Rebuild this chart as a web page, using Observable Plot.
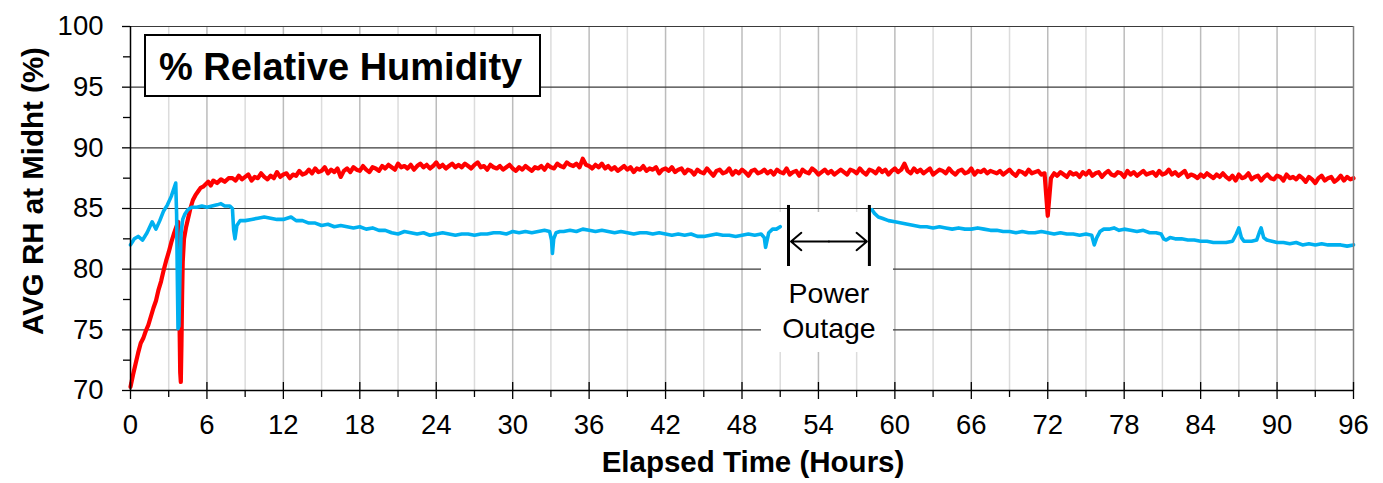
<!DOCTYPE html>
<html><head><meta charset="utf-8">
<script src="https://cdn.jsdelivr.net/npm/d3@7"></script>
<script src="https://cdn.jsdelivr.net/npm/@observablehq/plot@0.6"></script>
<style>body{margin:0;background:#fff;} svg{display:block}</style>
</head><body><div id="chart"></div>
<script>
// ---- tick labels / grid values ----
const xTicks = [0,6,12,18,24,30,36,42,48,54,60,66,72,78,84,90,96];
const xMinorTicks = [3,9,15,21,27,33,39,45,51,57,63,69,75,81,87,93];
const xGridMajor = [6,12,18,24,30,36,42,48,54,60,66,72,78,84,90];
const yTicks = [70,75,80,85,90,95,100];
const yMinorTicks = [72.5,77.5,82.5,87.5,92.5,97.5];
const yGrid = [75,80,85,90,95,100];

// ---- red series: warm-up part (time h, RH %) ----
const redRise = [
  [0,70.3],[0.2,71.3],[0.4,72.2],[0.6,73.1],[0.8,73.9],[1.0,74.3],[1.2,74.9],[1.4,75.4],
  [1.6,76.1],[1.8,76.8],[2.0,77.4],[2.2,78.3],[2.4,79.0],[2.6,79.9],[2.8,80.7],[3.0,81.4],
  [3.2,82.2],[3.4,82.9],[3.6,83.5],[3.75,83.9],[3.83,77.0],[3.9,71.5],[3.95,70.7],[4.0,73.8],
  [4.05,77.8],[4.1,80.6],[4.2,82.5],[4.35,83.4],[4.5,84.1],[4.7,85.0],[4.9,85.7],[5.1,86.1],
  [5.3,86.4],[5.5,86.7],[5.7,86.8],[5.9,87.0],[6.1,87.2],[6.3,86.9],[6.5,87.3],[6.8,87.1],
  [7.1,87.4],[7.4,87.2],[7.7,87.5]
];
// ---- red series: from 8 h on, one reading every 0.25 h ----
const redMainStart = 8, redMainStep = 0.25;
const redMain = [
  87.5,87.3,87.7,87.4,87.6,87.8,87.3,87.6,87.5,87.9,87.6,87.4,87.7,87.5,88.0,87.6,87.8,87.9,87.5,87.8,87.7,88.1,87.8,87.9,
  88.2,87.9,88.3,88.0,88.1,88.4,87.9,88.2,88.0,88.3,87.6,88.1,88.3,88.0,88.4,88.2,88.1,88.5,88.2,88.0,88.4,88.3,88.1,88.5,
  88.3,88.6,88.4,88.2,88.7,88.4,88.5,88.3,88.6,88.2,88.5,88.7,88.4,88.6,88.3,88.5,88.8,88.4,88.6,88.3,88.5,88.7,88.4,88.6,
  88.4,88.7,88.5,88.3,88.6,88.8,88.4,88.5,88.2,88.6,88.4,88.3,88.5,88.2,88.4,88.6,88.3,88.1,88.4,88.2,88.5,88.3,88.1,88.4,
  88.3,88.5,88.2,88.6,88.4,88.3,88.7,88.5,88.4,88.8,88.6,88.5,88.7,88.4,89.1,88.6,88.5,88.3,88.6,88.4,88.7,88.3,88.5,88.2,
  88.4,88.1,88.3,88.5,88.2,88.4,88.0,88.3,88.2,88.5,88.1,88.3,88.2,88.4,87.9,88.2,88.3,88.1,88.4,88.0,88.2,88.3,87.9,88.2,
  88.1,87.8,88.2,88.0,87.9,88.3,88.0,87.7,88.1,88.2,87.9,88.0,88.3,87.8,88.1,87.9,88.2,88.0,87.7,88.1,88.2,87.9,88.0,88.2,
  87.9,88.1,87.8,88.2,88.0,87.9,88.3,87.8,88.0,88.1,87.7,88.2,88.0,87.9,88.3,88.1,87.8,88.0,88.2,87.9,88.1,87.8,88.0,88.2,
  88.0,87.8,88.2,88.1,87.9,88.3,88.0,87.8,88.2,88.1,87.9,88.3,88.0,88.2,87.8,88.1,88.3,88.0,88.2,88.7,88.1,87.9,88.3,88.0,
  88.2,87.9,88.1,88.3,87.8,88.0,88.2,88.1,87.9,88.3,88.0,87.8,88.1,88.2,87.9,88.0,88.3,87.8,88.1,88.0,88.2,87.9,88.1,88.0,
  87.9,88.1,87.8,88.0,88.2,87.9,87.7,88.1,88.0,87.8,88.2,87.9,88.0,88.1,87.8,87.9,84.4,87.5,87.9,87.7,88.0,87.8,87.6,88.0,
  87.8,87.9,87.6,88.0,87.8,88.1,87.7,87.9,88.0,87.6,87.9,88.1,87.8,87.7,88.0,87.9,87.6,88.1,87.8,88.0,87.7,87.9,88.1,87.8,
  87.9,88.0,87.7,88.1,87.8,87.9,88.2,87.8,88.0,87.7,87.9,88.1,87.6,87.8,87.7,87.5,87.8,87.6,87.9,87.7,87.5,87.8,87.6,87.9,
  87.6,87.4,87.7,87.3,87.8,87.5,87.6,87.9,87.4,87.6,87.7,87.3,87.6,87.8,87.5,87.4,87.7,87.6,87.3,87.8,87.5,87.6,87.4,87.7,
  87.5,87.2,87.6,87.4,87.1,87.5,87.7,87.3,87.5,87.6,87.2,87.4,87.7,87.3,87.6,87.4,87.5
];

// ---- cyan series (time h, RH %); null = no data (power outage) ----
const cyanSeries = [
  [0,82.0],[0.3,82.5],[0.6,82.7],[0.95,82.4],[1.3,83.0],[1.7,83.9],[2.0,83.3],[2.3,84.0],
  [2.6,84.8],[2.9,85.3],[3.2,86.0],[3.55,87.1],[3.62,84.5],[3.68,79.0],[3.73,75.1],[3.8,75.3],
  [3.88,79.5],[3.97,83.0],[4.1,84.1],[4.25,84.5],[4.5,84.9],[4.8,85.1],[5.2,85.1],[5.6,85.2],
  [6.0,85.1],[6.4,85.2],[6.8,85.3],[7.1,85.4],[7.4,85.2],[7.8,85.2],[8.0,85.0],[8.1,83.2],
  [8.2,82.5],[8.35,83.6],[8.6,84.0],[9.0,84.0],[9.5,84.1],[10.0,84.2],[10.5,84.3],[11.0,84.2],
  [11.5,84.1],[12.0,84.1],[12.6,84.3],[13.0,84.0],[13.5,84.0],[14.0,83.8],[14.5,83.8],[15.0,83.6],
  [15.5,83.7],[16.0,83.5],[16.5,83.6],[17.0,83.5],[17.5,83.4],[18.0,83.5],[18.5,83.3],[19.0,83.4],
  [19.5,83.2],[20.0,83.2],[20.5,83.0],[21.0,82.9],[21.5,83.1],[22.0,83.0],[22.5,82.9],[23.0,83.0],
  [23.5,82.8],[24.0,82.9],[24.5,83.0],[25.0,82.9],[25.5,82.8],[26.0,82.9],[26.5,82.9],[27.0,82.8],
  [27.5,82.9],[28.0,82.9],[28.5,83.0],[29.0,83.0],[29.5,82.9],[30.0,83.1],[30.5,83.0],[31.0,83.1],
  [31.5,83.0],[32.0,83.1],[32.5,83.2],[32.9,83.1],[33.05,82.4],[33.12,81.3],[33.22,82.5],[33.4,83.0],
  [33.7,83.1],[34.0,83.1],[34.5,83.2],[35.0,83.1],[35.5,83.3],[36.0,83.2],[36.5,83.1],[37.0,83.2],
  [37.5,83.1],[38.0,83.0],[38.5,83.1],[39.0,83.0],[39.5,82.9],[40.0,83.0],[40.5,83.0],[41.0,82.9],
  [41.5,83.0],[42.0,82.9],[42.5,82.8],[43.0,82.9],[43.5,82.8],[44.0,82.9],[44.5,82.7],[45.0,82.7],
  [45.5,82.8],[46.0,82.9],[46.5,82.8],[47.0,82.8],[47.5,82.7],[48.0,82.8],[48.5,82.9],[49.0,82.8],
  [49.5,82.9],[49.75,82.6],[49.85,81.8],[49.95,82.3],[50.1,83.0],[50.4,83.3],[50.7,83.3],[51.0,83.5],
  [54.0,null],
  [58.2,84.9],[58.4,84.6],[58.7,84.3],[59.0,84.2],[59.5,84.0],[60.0,83.9],[60.5,83.8],[61.0,83.7],
  [61.5,83.6],[62.0,83.5],[62.5,83.5],[63.0,83.4],[63.5,83.5],[64.0,83.4],[64.5,83.3],[65.0,83.4],
  [65.5,83.3],[66.0,83.3],[66.5,83.4],[67.0,83.3],[67.5,83.2],[68.0,83.2],[68.5,83.1],[69.0,83.1],
  [69.5,83.0],[70.0,83.1],[70.5,83.0],[71.0,83.0],[71.5,83.1],[72.0,83.0],[72.5,82.9],[73.0,83.0],
  [73.5,82.9],[74.0,82.9],[74.5,82.8],[75.0,82.9],[75.45,82.8],[75.65,82.0],[75.85,82.6],[76.1,83.1],
  [76.4,83.3],[76.8,83.3],[77.2,83.4],[77.6,83.2],[78.0,83.3],[78.5,83.2],[79.0,83.1],[79.5,83.2],
  [80.0,83.0],[80.5,83.0],[80.9,82.9],[81.1,82.5],[81.3,82.4],[81.6,82.6],[82.0,82.5],[82.5,82.5],
  [83.0,82.4],[83.5,82.4],[84.0,82.3],[84.5,82.3],[85.0,82.2],[85.5,82.2],[86.0,82.2],[86.5,82.3],
  [86.8,82.9],[87.0,83.4],[87.2,82.6],[87.4,82.3],[88.0,82.3],[88.4,82.4],[88.6,83.0],[88.75,83.4],
  [88.95,82.6],[89.2,82.4],[89.6,82.3],[90.0,82.2],[90.5,82.2],[91.0,82.1],[91.5,82.2],[92.0,82.0],
  [92.5,82.1],[93.0,82.0],[93.5,82.1],[94.0,82.0],[94.5,82.0],[95.0,82.0],[95.5,81.9],[96.0,82.0]
];

// ---- power-outage annotation ----
const outageEdges = [51.65, 58.0];
const outageLabel = ["Power", "Outage"];

// ---- build tables ----
const red = redRise.map(([t, v]) => ({t, v}))
  .concat(redMain.map((v, i) => ({t: redMainStart + i * redMainStep, v})));
const cyan = cyanSeries.map(([t, v]) => ({t, v}));
const outageMid = (outageEdges[0] + outageEdges[1]) / 2;

const FONT = "Liberation Sans, Arial, Helvetica, sans-serif";

const chart = Plot.plot({
  width: 1383, height: 483,
  marginLeft: 130, marginRight: 30, marginTop: 26, marginBottom: 93,
  style: {fontFamily: FONT, background: "#fff", color: "#000"},
  x: {type: "linear", domain: [0, 96]},
  y: {type: "linear", domain: [70, 100]},
  marks: [
    // grid
    Plot.ruleX(xMinorTicks, {x: d => d, stroke: "#dcdcdc", strokeWidth: 1.5}),
    Plot.ruleX(xGridMajor, {x: d => d, stroke: "#bcbcbc", strokeWidth: 1.5}),
    Plot.ruleY(yGrid, {y: d => d, stroke: "#3a3a3a", strokeWidth: 1.2}),
    // white label background for the outage note
    Plot.rect([0], {x1: 49.53, x2: 59.89, y1: 73.13, y2: 84.67, fill: "#fff"}),
    // series
    Plot.line(red, {x: "t", y: "v", stroke: "#ff0000", strokeWidth: 4.2}),
    Plot.line(cyan, {x: "t", y: "v", stroke: "#00b0f0", strokeWidth: 3.6}),
    // outage annotation
    Plot.ruleX(outageEdges, {x: d => d, y1: 80.22, y2: 85.25, stroke: "#000", strokeWidth: 3}),
    Plot.arrow([0], {x1: outageMid, x2: outageEdges[0], y1: 82.28, y2: 82.28, stroke: "#000", strokeWidth: 2, headLength: 13, headAngle: 80, insetEnd: 2.5}),
    Plot.arrow([0], {x1: outageMid, x2: outageEdges[1], y1: 82.28, y2: 82.28, stroke: "#000", strokeWidth: 2, headLength: 13, headAngle: 80, insetEnd: 2.5}),
    Plot.text(outageLabel, {x: outageMid, y: (d, i) => [78.0, 75.1][i], text: d => d, fontSize: 28.5, fill: "#000", fontFamily: FONT}),
    // axes lines
    Plot.ruleX([96], {x: d => d, stroke: "#808080", strokeWidth: 1.5}),
    Plot.ruleY([70], {y: d => d, stroke: "#000", strokeWidth: 1.5}),
    Plot.ruleX([0], {x: d => d, stroke: "#000", strokeWidth: 1.5}),
    // ticks
    Plot.ruleX(xTicks, {x: d => d, y1: 70, y2: 70, insetTop: -8, insetBottom: -9, stroke: "#000", strokeWidth: 1.3}),
    Plot.ruleX(xMinorTicks, {x: d => d, y1: 70, y2: 70, insetTop: 0, insetBottom: -7, stroke: "#000", strokeWidth: 1.3}),
    Plot.ruleY(yTicks, {y: d => d, x1: 0, x2: 0, insetLeft: -8, insetRight: 0, stroke: "#000", strokeWidth: 1.3}),
    Plot.ruleY(yMinorTicks, {y: d => d, x1: 0, x2: 0, insetLeft: -7, insetRight: 0, stroke: "#000", strokeWidth: 1.3}),
    // tick labels
    Plot.axisX({ticks: xTicks, tickSize: 0, tickPadding: 24, fontSize: 27.5, label: null, tickFormat: d => String(d)}),
    Plot.axisY({ticks: yTicks, tickSize: 0, tickPadding: 27, fontSize: 27.5, label: null, tickFormat: d => String(d)})
  ]
});

const svg = d3.select(chart);
svg.attr("font-family", FONT);

// title box
const tb = svg.append("g").attr("text-anchor", "start");
tb.append("rect").attr("x", 145).attr("y", 35).attr("width", 395).attr("height", 61)
  .attr("fill", "#fff").attr("stroke", "#000").attr("stroke-width", 2);
tb.append("text").attr("x", 159).attr("y", 80).attr("text-anchor", "start")
  .attr("font-size", 38).attr("font-weight", "bold")
  .attr("fill", "#000").attr("font-family", FONT).text("% Relative Humidity");

// axis titles
svg.append("text").attr("transform", "translate(43,191) rotate(-90)").attr("text-anchor", "middle")
  .attr("font-size", 29.5).attr("font-weight", "bold").attr("fill", "#000").attr("font-family", FONT)
  .text("AVG RH at Midht (%)");
svg.append("text").attr("x", 753).attr("y", 472).attr("text-anchor", "middle")
  .attr("font-size", 29.5).attr("font-weight", "bold").attr("fill", "#000").attr("font-family", FONT)
  .text("Elapsed Time (Hours)");

document.getElementById("chart").appendChild(chart);
</script>
</body></html>
